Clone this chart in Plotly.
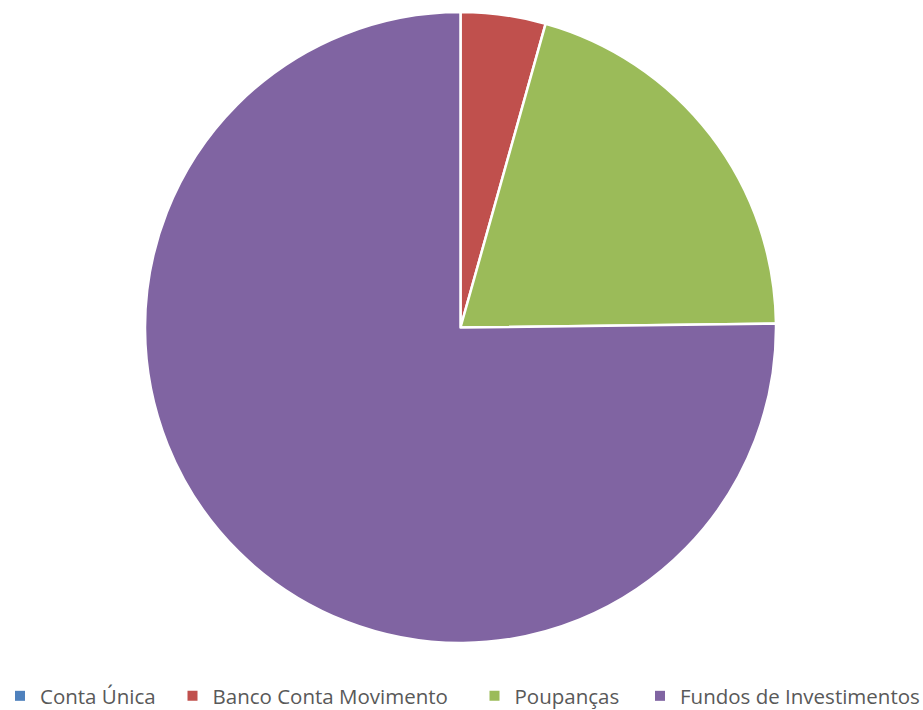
import plotly.graph_objects as go

categories = ["Conta Única", "Banco Conta Movimento", "Poupanças", "Fundos de Investimentos"]
values = [0.0, 4.35, 20.45, 75.2]
colors = ["#4F81BD", "#C0504D", "#9BBB59", "#8064A2"]

W, H = 923, 710
LEG_TOP = 676  # legend top (px); plot area ends here
# legend entry marker centres (pixels) in the reference layout
legend_marker_px = [18, 195, 497, 662.5]

fig = go.Figure()

fig.add_trace(go.Pie(
    labels=categories,
    values=values,
    sort=False,
    direction="clockwise",
    rotation=0,
    textinfo="none",
    hoverinfo="label+percent",
    showlegend=False,
    marker=dict(colors=colors, line=dict(color="white", width=2.5)),
    domain=dict(x=[145/W, 776/W], y=[1-643/LEG_TOP, 1-12/LEG_TOP]),
))

legend_layout = {}
for i, (cat, col, mx) in enumerate(zip(categories, colors, legend_marker_px)):
    key = "legend" if i == 0 else f"legend{i+1}"
    fig.add_trace(go.Scatter(
        x=[None], y=[None], mode="markers", name=cat,
        marker=dict(symbol="square", size=10, color=col),
        legend=key, showlegend=True, hoverinfo="skip",
    ))
    legend_layout[key] = dict(
        xref="container", yref="container",
        x=max(mx - 3 - 19.5, 0) / W, xanchor="left",
        y=1 - LEG_TOP / H, yanchor="top",
        orientation="h",
        bgcolor="rgba(0,0,0,0)",
        font=dict(size=20.5, color="#595959", family="Open Sans, Liberation Sans, sans-serif"),
    )

fig.update_layout(
    width=W, height=H,
    margin=dict(l=0, r=0, t=0, b=0),
    paper_bgcolor="white",
    plot_bgcolor="white",
    font=dict(family="Open Sans, Liberation Sans, sans-serif", color="#595959", size=20.5),
    xaxis=dict(visible=False),
    yaxis=dict(visible=False),
    showlegend=True,
    **legend_layout,
)

fig.write_html("out.html")
